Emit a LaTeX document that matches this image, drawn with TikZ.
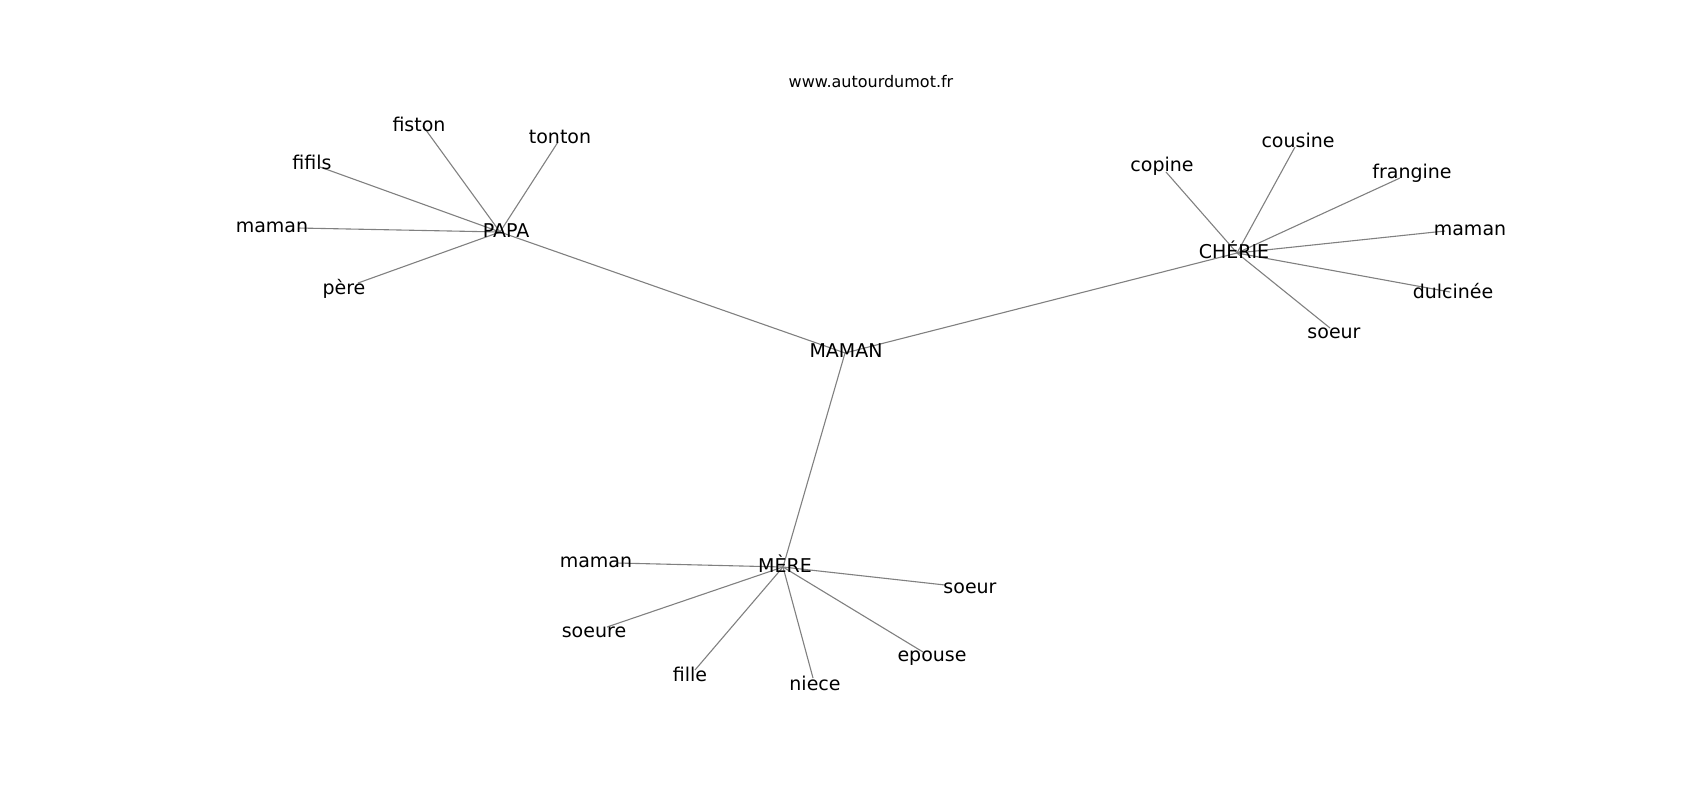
\documentclass[tikz,border=0pt]{standalone}
\usepackage{fontspec}
\setmainfont{DejaVu Sans}
\begin{document}
\begin{tikzpicture}[x=1pt,y=-1pt,
  lbl/.style={anchor=base,inner sep=0pt,font=\fontsize{19}{22}\selectfont},
  ttl/.style={anchor=base,inner sep=0pt,font=\fontsize{16}{19}\selectfont},
  edge/.style={draw=gray,line width=1.1pt}]
\useasboundingbox (0,0) rectangle (1700,800);
% graph points
\coordinate (pMAMAN) at (845,353);
\coordinate (pPAPA) at (500,232);
\coordinate (pCHERIE) at (1237,253);
\coordinate (pMERE) at (783,567);
\coordinate (pfiston) at (423,126);
\coordinate (ptonton) at (558,142);
\coordinate (pfifils) at (320,167);
\coordinate (pmamanA) at (298,228);
\coordinate (ppere) at (358,283);
\coordinate (pcopine) at (1166,172);
\coordinate (pcousine) at (1295,147);
\coordinate (pfrangine) at (1400,178);
\coordinate (pmamanB) at (1445,231);
\coordinate (pdulcinee) at (1450,292);
\coordinate (psoeurB) at (1330,328);
\coordinate (pmamanC) at (617,563);
\coordinate (psoeure) at (607,627);
\coordinate (pfille) at (695,670);
\coordinate (pniece) at (813,678);
\coordinate (pepouse) at (923,652);
\coordinate (psoeurC) at (945,585);
% edges
\draw[edge] (pMAMAN) -- (pPAPA);
\draw[edge] (pMAMAN) -- (pCHERIE);
\draw[edge] (pMAMAN) -- (pMERE);
\foreach \t in {pfiston,ptonton,pfifils,pmamanA,ppere} \draw[edge] (pPAPA) -- (\t);
\foreach \t in {pcopine,pcousine,pfrangine,pmamanB,pdulcinee,psoeurB} \draw[edge] (pCHERIE) -- (\t);
\foreach \t in {pmamanC,psoeure,pfille,pniece,pepouse,psoeurC} \draw[edge] (pMERE) -- (\t);
% labels
\node[ttl] (title) at (871,88) {www.autourdumot.fr};
\node[lbl] (MAMAN) at (846,357) {MAMAN};
\node[lbl] (PAPA) at (506,237) {PAPA};
\node[lbl] (fiston) at (419,131) {fiston};
\node[lbl] (tonton) at (560,143) {tonton};
\node[lbl] (fifils) at (312,169) {fifils};
\node[lbl] (mamanA) at (272,232) {maman};
\node[lbl] (pere) at (344,294) {père};
\node[lbl] (CHERIE) at (1234,258) {CHÉRIE};
\node[lbl] (copine) at (1162,171) {copine};
\node[lbl] (cousine) at (1298,147) {cousine};
\node[lbl] (frangine) at (1412,178) {frangine};
\node[lbl] (mamanB) at (1470,235) {maman};
\node[lbl] (dulcinee) at (1453,298) {dulcinée};
\node[lbl] (soeurB) at (1334,338) {soeur};
\node[lbl] (MERE) at (785,572) {MÈRE};
\node[lbl] (mamanC) at (596,567) {maman};
\node[lbl] (soeure) at (594,637) {soeure};
\node[lbl] (fille) at (690,681) {fille};
\node[lbl] (niece) at (815,690) {niece};
\node[lbl] (epouse) at (932,661) {epouse};
\node[lbl] (soeurC) at (970,593) {soeur};
\end{tikzpicture}
\end{document}
